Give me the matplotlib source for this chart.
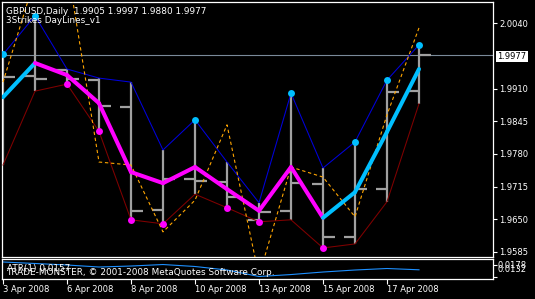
import matplotlib
matplotlib.use('Agg')
import matplotlib.pyplot as plt

# ---------------- data ----------------
dates = ['3 Apr 2008', '4 Apr 2008', '6 Apr 2008', '7 Apr 2008', '8 Apr 2008',
         '9 Apr 2008', '10 Apr 2008', '11 Apr 2008', '13 Apr 2008', '14 Apr 2008',
         '15 Apr 2008', '16 Apr 2008', '17 Apr 2008', '18 Apr 2008']
opens = [1.9860, 1.9936, 1.9947, 1.9927, 1.9874, 1.9669, 1.9730, 1.9724, 1.9649,
         1.9667, 1.9720, 1.9615, 1.9710, 1.9905]
highs = [1.9978, 2.0055, 1.9949, 1.9931, 1.9923, 1.9788, 1.9848, 1.9764, 1.9683,
         1.9901, 1.9752, 1.9804, 1.9927, 1.9997]
lows = [1.9758, 1.9905, 1.9919, 1.9825, 1.9649, 1.9641, 1.9700, 1.9673, 1.9645,
        1.9649, 1.9593, 1.9601, 1.9685, 1.9880]
closes = [1.9934, 1.9929, 1.9929, 1.9876, 1.9667, 1.9730, 1.9726, 1.9694, 1.9665,
          1.9723, 1.9615, 1.9710, 1.9903, 1.9977]
ma_line = [1.9893, 1.9961, 1.9937, 1.9881, 1.9744, 1.9722, 1.9754, 1.9710, 1.9667,
           1.9754, 1.9653, 1.9704, 1.9824, 1.9949]
ma_trend_up = [1, 1, 0, 0, 0, 0, 0, 0, 0, 0, 0, 1, 1, 1]
orange_line = [1.9923, 2.0130, 2.0156, 1.9764, 1.9758, 1.9625, 1.9688, 1.9838, 1.9537,
               1.9754, 1.9734, 1.9655, 1.9858, 2.0031]
dot_at_high = [1, 1, 0, 0, 0, 0, 1, 0, 0, 1, 0, 1, 1, 1]
atr = [0.01717, 0.01682, 0.01647, 0.01600, 0.01623, 0.01658, 0.01612, 0.01530,
       0.01378, 0.01424, 0.01483, 0.01530, 0.01565, 0.01535]
price_ticks = [2.0040, 1.9910, 1.9845, 1.9780, 1.9715, 1.9650, 1.9585]
current_price = 1.9977
header = 'GBPUSD,Daily  1.9905 1.9997 1.9880 1.9977'
indicator_name = '3Strikes DayLines_v1'
atr_label = 'ATR(1) 0.0157'
copyright_text = 'TRADE-MONSTER, \u00a9 2001-2008 MetaQuotes Software Corp.'
atr_max_label = '0.0178'
atr_min_label = '0.0132'

# ---------------- layout ----------------
W, H = 535, 299
fig = plt.figure(figsize=(W / 100, H / 100), dpi=100, facecolor='black')

def fx(px):
    return px / W

def fy(py):
    return 1 - py / H

ax = fig.add_axes([fx(2), fy(256.7), (493 - 2) / W, (256.7 - 2) / H])
ax.set_facecolor('black')
xlim = (-1 / 32, 490 / 32)
ax.set_xlim(*xlim)
ax.set_ylim(1.95756, 2.00824)
for s in ax.spines.values():
    s.set_color('white')
    s.set_linewidth(0.9)

n = len(dates)
xs = list(range(n))

# current price line
ax.axhline(current_price, color='#7A8A99', lw=0.8, zorder=1)

# OHLC bars
bar_c = '#A0A0A0'
for i in xs:
    ax.plot([i, i], [lows[i], highs[i]], color=bar_c, lw=1.6, solid_capstyle='butt', zorder=2)
    ax.plot([i - 0.35, i], [opens[i], opens[i]], color=bar_c, lw=1.6, solid_capstyle='butt', zorder=2)
    ax.plot([i, i + 0.37], [closes[i], closes[i]], color=bar_c, lw=1.6, solid_capstyle='butt', zorder=2)

# high / low lines
ax.plot(xs, highs, color='#0000DD', lw=0.75, zorder=3)
ax.plot(xs, lows, color='#800000', lw=0.75, zorder=3)
# orange dashed
ax.plot(xs, orange_line, color='#FFA500', lw=0.8, linestyle=(0, (3, 2.5)), zorder=3)

# thick trend line
for i in range(1, n):
    col = '#00BFFF' if ma_trend_up[i] else '#FF00FF'
    ax.plot([i - 1, i], [ma_line[i - 1], ma_line[i]], color=col, lw=2.9,
            solid_capstyle='round', zorder=4)

# dots
for i in xs:
    if dot_at_high[i]:
        ax.plot(i, highs[i], 'o', color='#00BFFF', ms=5, mec='none', zorder=5)
    else:
        ax.plot(i, lows[i], 'o', color='#FF00FF', ms=5, mec='none', zorder=5)

ax.set_xticks([])
ax.yaxis.tick_right()
ax.set_yticks(price_ticks)
ax.set_yticklabels(['%.4f' % v for v in price_ticks])
ax.tick_params(axis='y', colors='white', length=3, width=0.8, labelsize=6, pad=1.5)

# header texts
fig.text(fx(6), fy(11.2), header, color='white', fontsize=6.4, va='center', ha='left')
fig.text(fx(6), fy(20.8), indicator_name, color='white', fontsize=6.4, va='center', ha='left')

# current price box
fig.text(fx(497.5), fy(56.7), '%.4f' % current_price, color='black', fontsize=6,
         va='center', ha='left',
         bbox=dict(facecolor='white', edgecolor='none', boxstyle='square,pad=0.15'))

# ---------------- ATR sub panel ----------------
ax2 = fig.add_axes([fx(2), fy(279), (493 - 2) / W, (279 - 259.3) / H])
ax2.set_facecolor('black')
ax2.set_xlim(*xlim)
ax2.set_ylim(0.0132, 0.0178)
for s in ax2.spines.values():
    s.set_color('white')
    s.set_linewidth(0.9)
ax2.plot(xs, atr, color='#1E90FF', lw=0.8, zorder=2)
ax2.yaxis.tick_right()
ax2.set_yticks([0.0132 + (279 - 265) / 19.7 * 0.0046, 0.0132 + (279 - 277) / 19.7 * 0.0046])
ax2.set_yticklabels(['', ''])
ax2.tick_params(axis='y', colors='white', length=3, width=0.8)
ax2.set_xticks(xs[::2])
ax2.set_xticklabels(dates[::2])
ax2.tick_params(axis='x', colors='white', length=3.5, width=0.8, labelsize=6, pad=1)
for lab in ax2.get_xticklabels():
    lab.set_ha('left')

fig.text(fx(7), fy(268.7), atr_label, color='white', fontsize=6.4, va='center', ha='left')
fig.text(fx(6.5), fy(272.3), copyright_text, color='white', fontsize=6.4, va='center', ha='left')
fig.text(fx(498), fy(265.8), atr_max_label, color='white', fontsize=6, va='center', ha='left')
fig.text(fx(498), fy(269.5), atr_min_label, color='white', fontsize=6, va='center', ha='left')

fig.savefig('out.png', dpi=100, facecolor='black')
